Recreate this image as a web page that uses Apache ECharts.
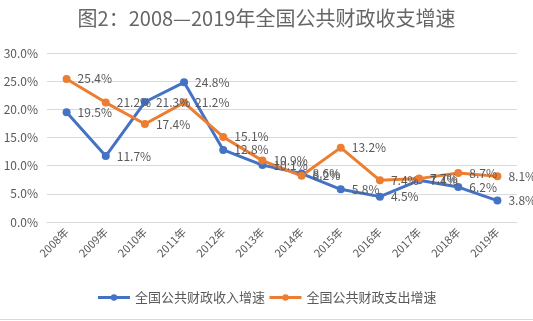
<!DOCTYPE html>
<html><head><meta charset="utf-8">
<script src="https://cdn.jsdelivr.net/npm/echarts@6/dist/echarts.min.js"></script>
<style>html,body{margin:0;padding:0;background:#fff}#c{width:533px;height:321px}</style>
</head><body><div id="c"></div>
<script>
const titleText = '图2：2008—2019年全国公共财政收支增速';
const categories = ['2008年','2009年','2010年','2011年','2012年','2013年','2014年','2015年','2016年','2017年','2018年','2019年'];
const revenueName = '全国公共财政收入增速';
const expenditureName = '全国公共财政支出增速';
const revenue = [19.5, 11.7, 21.3, 24.8, 12.8, 10.1, 8.6, 5.8, 4.5, 7.4, 6.2, 3.8];
const expenditure = [25.4, 21.2, 17.4, 21.2, 15.1, 10.9, 8.2, 13.2, 7.4, 7.7, 8.7, 8.1];
const yTicks = [0, 5, 10, 15, 20, 25, 30];

const font = '"Noto Sans CJK SC", "Noto Sans", sans-serif';
const grey = '#595959';
const chart = echarts.init(document.getElementById('c'), null, {renderer: 'canvas'});
function mkSeries(name, data, color) {
  return {
    name, type: 'line', data,
    symbol: 'circle', symbolSize: 8,
    lineStyle: {width: 3, color},
    itemStyle: {color},
    label: {show: true, position: 'right', distance: 7, color: grey, fontSize: 12, fontFamily: font,
      formatter: p => p.value.toFixed(1) + '%'},
    emphasis: {disabled: true},
    animation: false
  };
}
chart.setOption({
  animation: false,
  title: {text: titleText, left: 'center', top: 3,
    textStyle: {fontSize: 20, fontWeight: 'normal', color: '#666666', fontFamily: font}},
  grid: {left: 47, right: 16, top: 53, bottom: 99, containLabel: false},
  legend: {bottom: 12, left: 'center', itemWidth: 32, itemHeight: 8, itemGap: 3,
    lineStyle: {width: 3},
    textStyle: {fontSize: 13, color: grey, fontFamily: font},
    data: [revenueName, expenditureName]
  },
  xAxis: {type: 'category', data: categories, boundaryGap: true,
    axisLine: {show: true, lineStyle: {color: '#d9d9d9'}},
    axisTick: {show: false},
    axisLabel: {rotate: 45, fontSize: 11, color: grey, fontFamily: font, margin: 8, interval: 0}},
  yAxis: {type: 'value', min: yTicks[0], max: yTicks[yTicks.length-1], interval: yTicks[1]-yTicks[0],
    axisLine: {show: false}, axisTick: {show: false},
    splitLine: {lineStyle: {color: '#d9d9d9', width: 1}},
    axisLabel: {fontSize: 12, color: grey, fontFamily: font, margin: 9, formatter: v => v.toFixed(1) + '%'}},
  series: [mkSeries(revenueName, revenue, '#4472C4'), mkSeries(expenditureName, expenditure, '#ED7D31')],
  graphic: [{type: 'line', shape: {x1: 0, y1: 319.5, x2: 533, y2: 319.5}, style: {stroke: '#d9d9d9', lineWidth: 1}}]
});
</script></body></html>
